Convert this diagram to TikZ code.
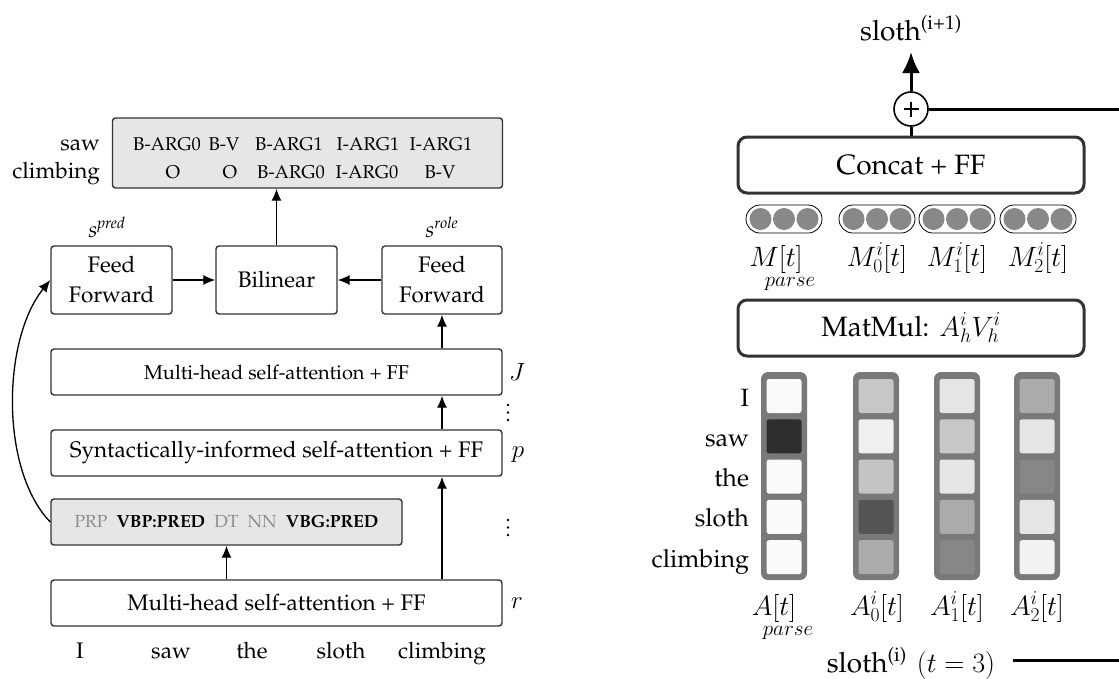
\documentclass[tikz,border=0pt]{standalone}
\usepackage{fix-cm}
\usepackage[T1]{fontenc}
\renewcommand{\rmdefault}{ppl}
\usetikzlibrary{arrows.meta,calc}
\definecolor{bdr}{HTML}{333333}
\definecolor{lgray}{HTML}{E6E6E6}
\definecolor{postag}{HTML}{8C8C8C}
\definecolor{framec}{HTML}{797979}
\definecolor{dotc}{HTML}{888888}
\tikzset{
  box/.style={draw=bdr, line width=1.4pt, rounded corners=3pt, fill=white, inner sep=0pt, align=center},
  bigbox/.style={draw=bdr, line width=3pt, rounded corners=9pt, fill=white, inner sep=0pt},
  arr/.style={draw=black, line width=1.3pt, -{Latex[length=12pt,width=10pt]}},
  bigarr/.style={draw=black, line width=3pt, -{Latex[length=21pt,width=18pt]}},
  thickln/.style={draw=black, line width=3pt},
  txt/.style={inner sep=0pt, outer sep=0pt},
  fA/.style={font=\fontsize{22.5}{30}\selectfont},
  fB/.style={font=\fontsize{20}{24}\selectfont},
  fC/.style={font=\fontsize{18.5}{22}\selectfont},
  fD/.style={font=\fontsize{17.5}{21}\selectfont},
  fR/.style={font=\fontsize{28}{34}\selectfont},
  fM/.style={font=\fontsize{25}{30}\selectfont},
  fW/.style={font=\fontsize{28}{34}\selectfont},
  fL/.style={font=\fontsize{25}{30}\selectfont},
  fP/.style={font=\fontsize{21}{24}\selectfont},
  capsule/.style={draw=black, line width=0.8pt, rounded corners=14pt, minimum width=76, minimum height=28, inner sep=0pt},
  dotn/.style={circle, fill=dotc, minimum size=22, inner sep=0pt},
  vdot/.style={circle, fill=black, minimum size=2.6, inner sep=0pt},
}
\begin{document}
\begin{tikzpicture}[x=1pt,y=-1pt]
\useasboundingbox (0,0) rectangle (1119,678);

% ---------------- LEFT ----------------
\node[box, fill=lgray, minimum width=390, minimum height=70] (out) at (307.5,153) {};
\foreach \x/\t [count=\i] in {167/B-ARG0, 224/B-V, 289/B-ARG1, 368/I-ARG1, 441/I-ARG1}
  \node[txt, fC, anchor=base] (oa\i) at (\x,150) {\t};
\foreach \x/\t [count=\i] in {173/O, 230/O, 291/B-ARG0, 367/I-ARG0, 440/B-V}
  \node[txt, fC, anchor=base] (ob\i) at (\x,178) {\t};
\node[txt, fA, anchor=base east] (lsaw) at (100,150) {saw};
\node[txt, fA, anchor=base east] (lclimb) at (100,178) {climbing};

\node[box, fA, minimum width=121, minimum height=68] (ffl) at (111.5,280) {Feed\\Forward};
\node[box, fA, minimum width=121, minimum height=68] (bil) at (276.5,280) {Bilinear};
\node[box, fA, minimum width=120, minimum height=68] (ffr) at (442,280) {Feed\\Forward};
\node[txt, fA, anchor=base] (spred) at (107,237) {\textit{s\textsuperscript{pred}}};
\node[txt, fA, anchor=base] (srole) at (442,237) {\textit{s\textsuperscript{role}}};

\node[box, fB, minimum width=451, minimum height=46] (J) at (276.5,372) {Multi-head self-attention + FF};
\node[box, fA, minimum width=451, minimum height=46] (P) at (276.5,453) {Syntactically-informed self-attention + FF};
\node[box, fill=lgray, fD, minimum width=351, minimum height=46] (POS) at (226.5,522)
  {\textcolor{postag}{PRP}\hspace{9pt}\textbf{VBP:PRED}\hspace{9pt}\textcolor{postag}{DT}\hspace{9pt}\textcolor{postag}{NN}\hspace{9pt}\textbf{VBG:PRED}};
\node[box, fA, minimum width=451, minimum height=46] (R) at (276.5,603) {Multi-head self-attention + FF};

\foreach \y [count=\i] in {405,412.5,420} \node[vdot] (va\i) at (508,\y) {};
\foreach \y [count=\i] in {520,527.5,535} \node[vdot] (vb\i) at (508,\y) {};
\node[txt, fL] (lJ) at (517,372) {$J$};
\node[txt, fL] (lp) at (518,455) {$p$};
\node[txt, fL] (lr) at (517,603) {$r$};

\foreach \x/\t [count=\i] in {80/I, 171/saw, 252/the, 341/sloth, 442/climbing}
  \node[txt, fA, anchor=base] (w\i) at (\x,658) {\t};

\draw[arr] (bil.north) -- (bil.north |- out.south);
\draw[arr] (ffl.east) -- (bil.west);
\draw[arr] (ffr.west) -- (bil.east);
\draw[arr] (ffr.south |- J.north) -- (ffr.south);
\draw[arr] (ffr.south |- P.north) -- (ffr.south |- J.south);
\draw[arr] (ffr.south |- R.north) -- (ffr.south |- P.south);
\draw[arr] (POS.south |- R.north) -- (POS.south);
\draw[arr] (POS.west) .. controls (0,470) and (2,340) .. (ffl.west);

% ---------------- RIGHT ----------------
\node[txt, fR, anchor=base] (slothip) at (911,40) {sloth\textsuperscript{(i+1)}};
\node[circle, draw=black, fill=white, line width=1.6pt, minimum size=34, inner sep=0pt] (plus) at (911,109) {};
\draw[line width=1.6pt] ($(plus.center)+(-7.5,0)$) -- ($(plus.center)+(7.5,0)$)
                        ($(plus.center)+(0,-7.5)$) -- ($(plus.center)+(0,7.5)$);
\coordinate (tipup) at (911,52);
\coordinate (redge1) at (1119,109);
\draw[bigarr] (plus.north) -- (tipup);
\draw[thickln] (plus.east) -- (redge1);

\node[bigbox, fR, minimum width=346, minimum height=56] (concat) at (911,165) {Concat + FF};
\draw[thickln] (plus.south) -- (concat.north);

\foreach \cx [count=\k] in {784,877,957,1038} {
  \node[capsule] (cap\k) at (\cx,219) {};
  \foreach \d in {-23.5,0,23.5}
    \node[dotn] at (\cx+\d,219) {};
}
\node[txt, fW, anchor=base] (m0) at (776,266) {$M[t]$};
\node[txt, fP, anchor=base] (mp) at (790,286) {$parse$};
\node[txt, fW, anchor=base] (m1) at (877,266) {$M^i_0[t]$};
\node[txt, fW, anchor=base] (m2) at (957,266) {$M^i_1[t]$};
\node[txt, fW, anchor=base] (m3) at (1038,266) {$M^i_2[t]$};

\node[bigbox, fR, minimum width=346, minimum height=56] (matmul) at (911,328) {MatMul:\hspace{10pt}$A^i_hV^i_h$};

\foreach \cx/\shades [count=\k] in {784/{2,82,2,2,2}, 876/{22,6,23,67,33}, 957/{10,22,10,33,47}, 1037/{33,10,47,10,5}} {
  \node[fill=framec, rounded corners=7pt, minimum width=46, minimum height=208, inner sep=0pt] (col\k) at (\cx,476) {};
  \foreach \s [count=\r] in \shades
    \node[fill=black!\s, rounded corners=2.5pt, minimum width=35, minimum height=34, inner sep=0pt] (c\k\r) at (\cx,{396+40.3*(\r-1)}) {};
}
\foreach \t [count=\r] in {I, saw, the, sloth, climbing}
  \node[txt, fM, anchor=base east] (rl\r) at (749,{406+40.3*(\r-1)}) {\t};

\node[txt, fW, anchor=base] (a0) at (774,615) {$A[t]$};
\node[txt, fP, anchor=base] (ap) at (788,635) {$parse$};
\node[txt, fW, anchor=base] (a1) at (877,615) {$A^i_0[t]$};
\node[txt, fW, anchor=base] (a2) at (957,615) {$A^i_1[t]$};
\node[txt, fW, anchor=base] (a3) at (1037,615) {$A^i_2[t]$};

\node[txt, fR, anchor=base] (slothi) at (911,672) {sloth\textsuperscript{(i)}\hspace{10pt}$(t=3)$};
\coordinate (redge2) at (1119,660);
\coordinate (lstart) at (1013,660);
\draw[thickln] (lstart) -- (redge2);
\end{tikzpicture}
\end{document}
